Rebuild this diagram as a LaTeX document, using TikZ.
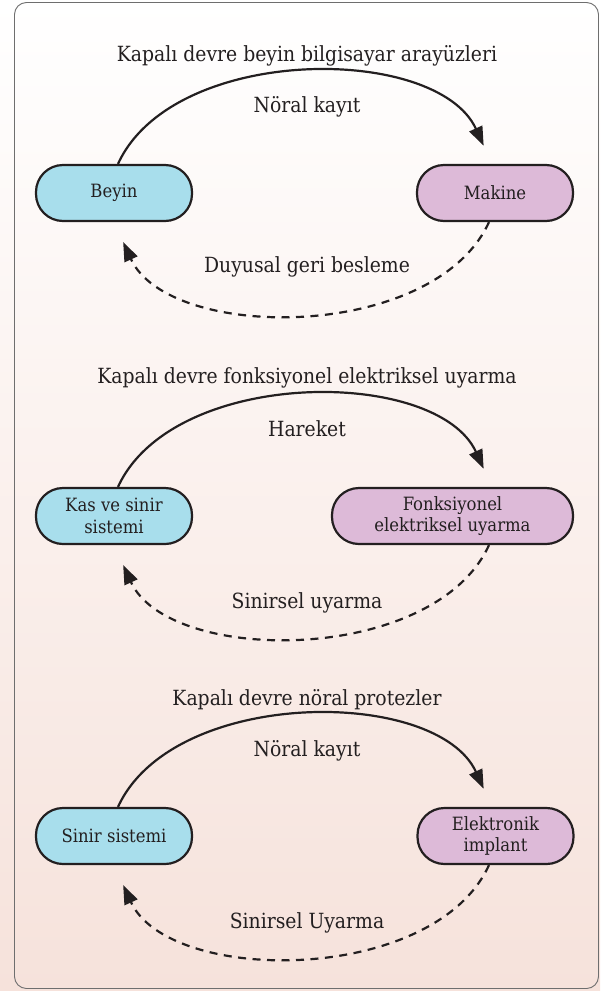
\documentclass[tikz,border=0pt]{standalone}
\usepackage{fontspec}
\setmainfont{DejaVu Serif Condensed}
\usetikzlibrary{arrows.meta,calc}
\definecolor{ink}{HTML}{231F20}
\definecolor{bluefill}{HTML}{A8DEEC}
\definecolor{pinkfill}{HTML}{DDBAD8}
\definecolor{framegray}{HTML}{6E6E6E}
\definecolor{peach}{HTML}{F6E2DB}
\begin{document}
\begin{tikzpicture}[x=1pt,y=-1pt,
  box/.style={draw=ink, line width=2.2pt, rounded corners=27pt, minimum width=156pt,
    minimum height=56pt, align=center, text=ink, inner sep=0pt,
    font=\fontsize{18.3}{21.5}\selectfont},
  bluebox/.style={box, fill=bluefill},
  pinkbox/.style={box, fill=pinkfill},
  lbl/.style={text=ink, anchor=base, inner sep=0pt, font=\fontsize{20.9}{24}\selectfont},
  flow/.style={draw=ink, line width=2.2pt, -{Triangle[length=19pt,width=14pt]}, shorten >=20pt},
  feedback/.style={flow, dash pattern=on 8pt off 6.5pt, shorten >=22pt}
]
\useasboundingbox (0,0) rectangle (600,991);
\shade[top color=white, middle color=white!97!peach, bottom color=peach] (0,0) rectangle (600,991);
\draw[framegray, line width=0.9pt, rounded corners=12pt] (14.5,2.5) rectangle (598.5,988.5);

% Diagram 1
\node[lbl] (t1) at (307,61) {Kapalı devre beyin bilgisayar arayüzleri};
\node[bluebox] (beyin) at (114,193) {Beyin};
\node[pinkbox] (makine) at (495,193) {Makine};
\node[lbl] (l1a) at (307,112) {Nöral kayıt};
\node[lbl] (l1b) at (307,272) {Duyusal geri besleme};
\draw[flow] ([xshift=4pt]beyin.north) .. controls +(55,-120) and +(-55,-120) .. ([xshift=-3pt]makine.north);
\draw[feedback] ([xshift=-6pt]makine.south) .. controls +(-55,120) and +(55,120) .. (beyin.south);

% Diagram 2
\node[lbl] (t2) at (307,383) {Kapalı devre fonksiyonel elektriksel uyarma};
\node[bluebox] (kas) at (114,516) {Kas ve sinir\\sistemi};
\node[pinkbox, minimum width=241pt] (fonk) at (452.5,516) {Fonksiyonel\\elektriksel uyarma};
\node[lbl] (l2a) at (307,436) {Hareket};
\node[lbl] (l2b) at (307,608) {Sinirsel uyarma};
\draw[flow] ([xshift=4pt]kas.north) .. controls +(55,-120) and +(-55,-120) .. ([xshift=39.5pt]fonk.north);
\draw[feedback] ([xshift=36.5pt]fonk.south) .. controls +(-55,120) and +(55,120) .. (kas.south);

% Diagram 3
\node[lbl] (t3) at (307,705) {Kapalı devre nöral protezler};
\node[bluebox] (sinir) at (114,836) {Sinir sistemi};
\node[pinkbox] (implant) at (495.5,836) {Elektronik\\implant};
\node[lbl] (l3a) at (307,756) {Nöral kayıt};
\node[lbl] (l3b) at (307,928) {Sinirsel Uyarma};
\draw[flow] ([xshift=4pt]sinir.north) .. controls +(55,-120) and +(-55,-120) .. ([xshift=-3.5pt]implant.north);
\draw[feedback] ([xshift=-6.5pt]implant.south) .. controls +(-55,120) and +(55,120) .. (sinir.south);
\end{tikzpicture}
\end{document}
